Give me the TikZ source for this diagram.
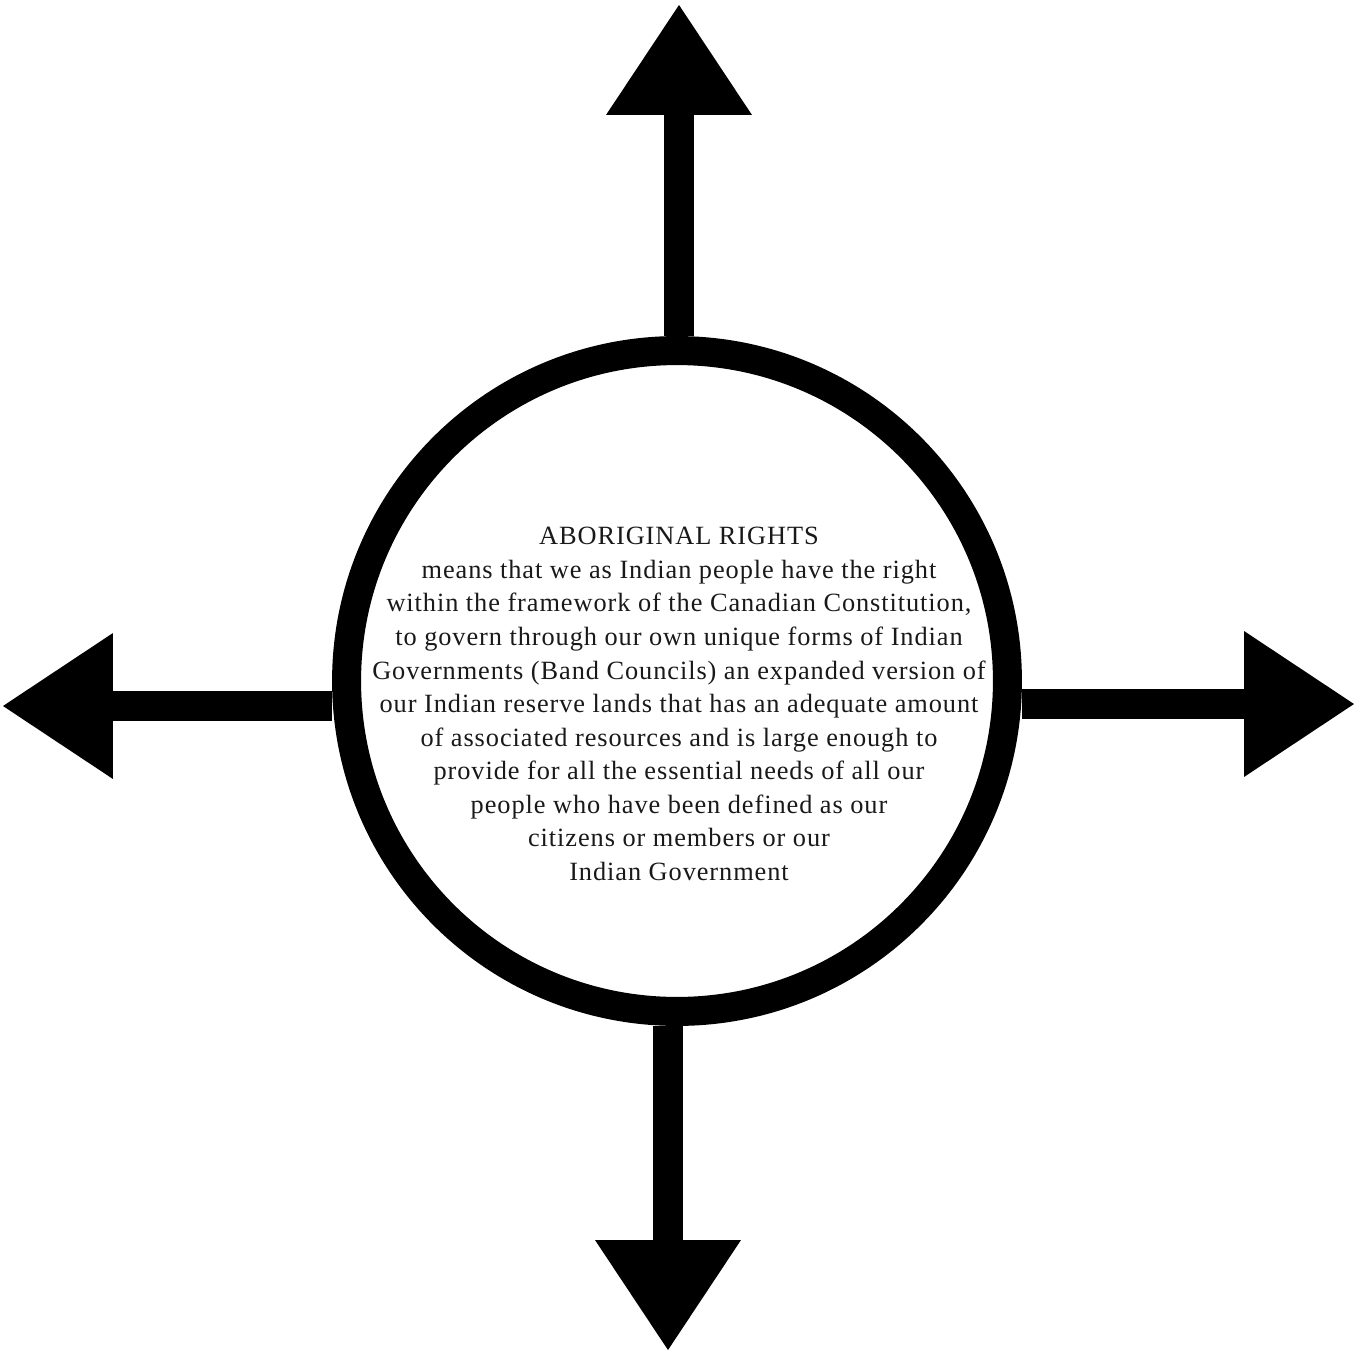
\documentclass[tikz,border=0pt]{standalone}
\usepackage{fontspec}
\setmainfont{Liberation Serif}
\usetikzlibrary{
    arrows.meta,
    positioning,
    calc
}
\tikzset{
    % --- Thick ring round the statement ---
    ring/.style = {
        circle, draw, line width=0.58cm,
        inner sep=0pt, minimum size=13.22cm
    },
    % --- Statement text inside the ring ---
    statement/.style = {
        align=center, text=black!90,
        font=\fontsize{15}{19.1}\selectfont\addfontfeatures{LetterSpace=3.5}
    },
    % --- Spoke arrow leaving the ring ---
    spoke/.style = {
        line width=0.6cm,
        -{Triangle[length=2.2cm, width=2.92cm, line width=0pt]}
    }
}

\begin{document}
\begin{tikzpicture}[x=0.02cm, y=-0.02cm]

% ---------------------------------------------------------
% Frame of the picture
% ---------------------------------------------------------
\useasboundingbox (0,0) rectangle (1356,1355);

% ---------------------------------------------------------
% Ring and statement
% ---------------------------------------------------------
\node[ring] (ring) at (677,681) {};

\node[statement] (rights) at (679,704) {%
    ABORIGINAL RIGHTS\\
    means that we as Indian people have the right\\
    within the framework of the Canadian Constitution,\\
    to govern through our own unique forms of Indian\\
    Governments (Band Councils) an expanded version of\\
    our Indian reserve lands that has an adequate amount\\
    of associated resources and is large enough to\\
    provide for all the essential needs of all our\\
    people who have been defined as our\\
    citizens or members or our\\
    Indian Government
};

% ---------------------------------------------------------
% Arrow tips
% ---------------------------------------------------------
\coordinate (up) at (679,5);
\coordinate (down) at (668,1350);
\coordinate (left) at (3,706);
\coordinate (right) at (1354,704);

% ---------------------------------------------------------
% Spokes
% ---------------------------------------------------------
\draw[spoke] (ring.north -| up) -- (up);
\draw[spoke] (ring.south -| down) -- (down);
\draw[spoke] (ring.west |- left) -- (left);
\draw[spoke] (ring.east |- right) -- (right);

\end{tikzpicture}
\end{document}
